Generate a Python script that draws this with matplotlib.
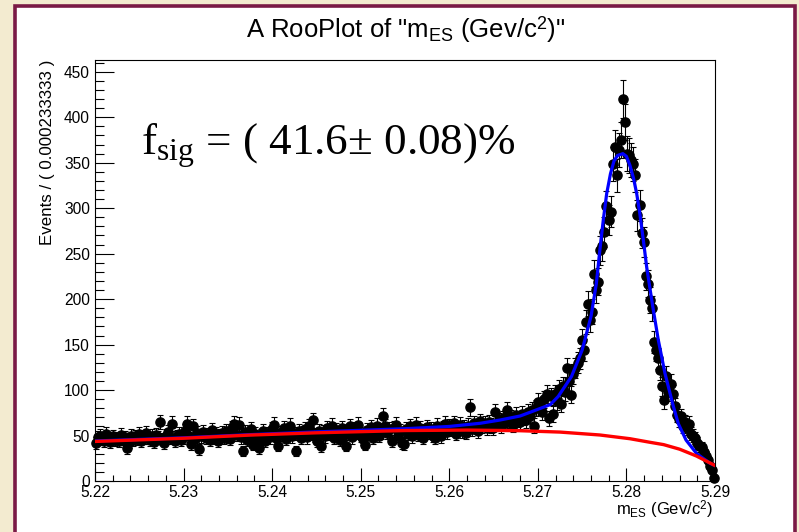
import numpy as np
import matplotlib
matplotlib.use('Agg')
import matplotlib.pyplot as plt
from matplotlib.patches import Rectangle
from matplotlib.ticker import MultipleLocator, FormatStrFormatter

plt.rcParams['font.family'] = ['Liberation Sans', 'DejaVu Sans']
plt.rcParams['mathtext.fontset'] = 'custom'
plt.rcParams['mathtext.rm'] = 'Liberation Serif'
plt.rcParams['mathtext.sf'] = 'Liberation Sans'
plt.rcParams['mathtext.it'] = 'Liberation Serif:italic'

# binning of the RooPlot
m_lo, m_hi, nbins = 5.22, 5.29, 300

# events per bin
counts = [
    42, 48, 50, 46, 44, 52, 47, 43, 49, 45,
    47, 44, 51, 46, 48, 36, 43, 50, 45, 49,
    46, 52, 44, 48, 53, 47, 45, 50, 43, 51,
    48, 65, 46, 42, 50, 54, 47, 63, 44, 49,
    52, 45, 48, 55, 63, 50, 41, 60, 46, 53,
    35, 49, 54, 47, 51, 45, 56, 48, 52, 44,
    50, 53, 47, 55, 49, 46, 58, 63, 51, 62,
    48, 33, 54, 45, 50, 57, 40, 52, 46, 36,
    50, 55, 44, 52, 48, 57, 62, 47, 39, 53,
    51, 58, 46, 54, 61, 49, 52, 33, 55, 47,
    53, 57, 48, 60, 52, 67, 50, 44, 55, 38,
    54, 49, 58, 52, 61, 47, 56, 53, 45, 58,
    51, 39, 55, 60, 48, 57, 53, 62, 50, 46,
    40, 56, 52, 59, 47, 55, 61, 50, 54, 72,
    60, 53, 57, 44, 58, 62, 50, 55, 42, 41,
    57, 52, 60, 49, 56, 62, 51, 58, 47, 54,
    59, 53, 57, 50, 47, 61, 55, 49, 58, 63,
    54, 60, 57, 64, 52, 58, 62, 55, 59, 53,
    61, 81, 57, 64, 59, 55, 66, 60, 63, 58,
    65, 61, 58, 76, 63, 67, 60, 69, 64, 78,
    66, 70, 62, 73, 68, 65, 74, 70, 67, 76,
    72, 78, 61, 80, 87, 82, 76, 90, 96, 69,
    93, 74, 96, 88, 101, 85, 104, 98, 124, 110,
    95, 118, 124, 130, 135, 155, 144, 175, 195, 177,
    186, 228, 210, 219, 254, 258, 274, 302, 287, 296,
    349, 367, 336, 364, 375, 420, 395, 360, 358, 353,
    349, 336, 292, 303, 273, 263, 225, 217, 199, 190,
    153, 144, 135, 122, 104, 89, 116, 98, 107, 96,
    82, 73, 68, 71, 60, 65, 58, 63, 52, 50,
    47, 42, 38, 37, 32, 28, 23, 16, 12, 3,
]

# total pdf (blue)
model_m = [5.22, 5.23, 5.2375, 5.245, 5.255, 5.26, 5.2635, 5.2657, 5.268, 5.2691,
           5.2714, 5.2723, 5.2738, 5.275, 5.276, 5.2766, 5.277, 5.2774, 5.27777, 5.2782,
           5.2786, 5.279, 5.2796, 5.28, 5.2804, 5.2808, 5.28116, 5.2815, 5.28191, 5.28229,
           5.28297, 5.2836, 5.28436, 5.2853, 5.28586, 5.28673, 5.28794, 5.28944, 5.29]
model_v = [44, 47.5, 51, 54, 57.5, 60, 63.5, 67, 71.5, 75.5,
           84, 93, 115, 144, 181, 217, 254, 288, 316, 338,
           352, 358, 360, 357, 347, 333, 316, 295, 265, 235,
           192, 155, 118, 82, 63, 45, 30, 19.5, 17]

# background (red)
bkg_m = [5.22, 5.23, 5.2375, 5.245, 5.255, 5.262, 5.268, 5.2725, 5.277, 5.2804,
         5.2827, 5.2842, 5.286, 5.2879, 5.2898, 5.29]
bkg_v = [43.5, 47, 50.5, 53, 55.5, 56, 55.3, 53.8, 50.6, 46.5,
         42.5, 40, 35, 27.5, 18, 17]

counts = np.array(counts, dtype=float)
bw = (m_hi - m_lo) / nbins
centers = m_lo + (np.arange(nbins) + 0.5) * bw

W, H = 799, 532
fig = plt.figure(figsize=(W / 100, H / 100), dpi=100)
fig.patch.set_facecolor('#f3ebd0')

# white canvas with maroon frame
fig.patches.append(Rectangle((14.8 / W, -20 / H), (794.7 - 14.8) / W, (H - 6.3 + 20) / H,
                             transform=fig.transFigure, facecolor='white',
                             edgecolor='#7a1a46', lw=2.6, zorder=-10))

ax = fig.add_axes([95 / W, 51 / H, 620 / W, 421 / H])
ax.set_zorder(1)
ax.set_facecolor('white')

ax.errorbar(centers, counts, yerr=np.sqrt(counts), fmt='o', color='black', ms=6.6,
            elinewidth=0.8, capsize=1.9, capthick=0.8, zorder=2, clip_on=False)
ax.plot(model_m, model_v, color='#0000ff', lw=2.3, zorder=3)
ax.plot(bkg_m, bkg_v, color='#ff0000', lw=2.4, zorder=4)

ax.set_xlim(m_lo, m_hi)
ax.set_ylim(0, 463)
ax.xaxis.set_major_locator(MultipleLocator(0.01))
ax.xaxis.set_minor_locator(MultipleLocator(0.002))
ax.xaxis.set_major_formatter(FormatStrFormatter('%.2f'))
ax.yaxis.set_major_locator(MultipleLocator(50))
ax.yaxis.set_minor_locator(MultipleLocator(10))
ax.tick_params(which='both', direction='in', top=False, right=False, width=0.8,
               labelsize=11.2, colors='black')
ax.tick_params(axis='y', which='major', length=13.4, pad=3.6)
ax.tick_params(axis='y', which='minor', length=6.7)
ax.tick_params(axis='x', which='major', length=9.1, pad=2.9)
ax.tick_params(axis='x', which='minor', length=4.5)
for sp in ax.spines.values():
    sp.set_linewidth(0.8)

fig.text(406 / W, 1 - 30 / H, 'A RooPlot of "m$_{\\mathsf{ES}}$ (Gev/c$^{\\mathsf{2}}$)"',
         ha='center', va='center', fontsize=18.5)
fig.text(48 / W, 1 - 60 / H, 'Events / ( 0.000233333 )', rotation=90,
         ha='center', va='top', fontsize=12.2)
fig.text(713 / W, 1 - 510 / H, 'm$_{\\mathsf{ES}}$ (Gev/c$^{\\mathsf{2}}$)',
         ha='right', va='center', fontsize=12)
fig.text(141 / W, 1 - 155 / H, 'f$_{\\mathrm{sig}}$ = ( 41.6\u00b1 0.08)%',
         family='Liberation Serif', ha='left', va='baseline', fontsize=32.5)

fig.savefig('out.png', dpi=100, facecolor=fig.get_facecolor())
